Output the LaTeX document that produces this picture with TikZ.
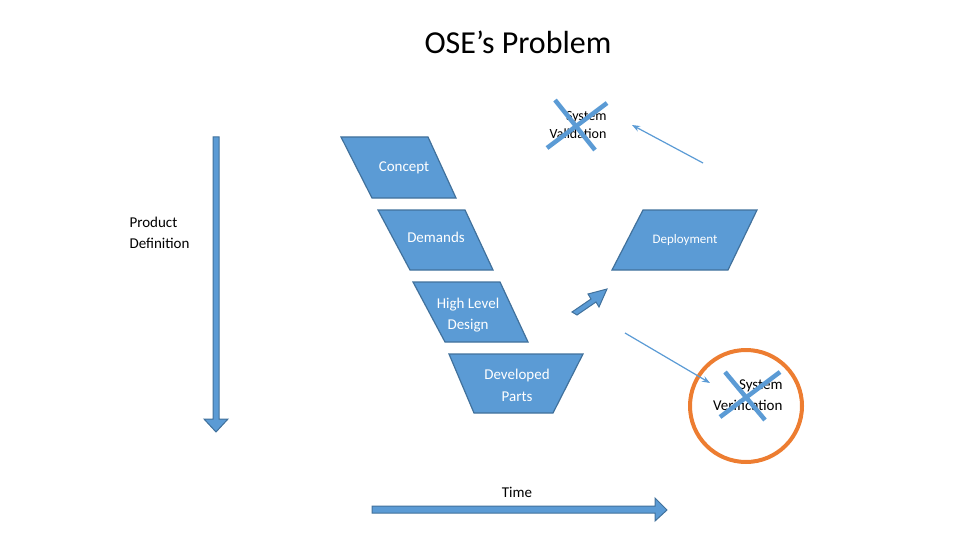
\documentclass[tikz,border=0pt]{standalone}
\usepackage{fontspec}
\setmainfont{Carlito}
\usetikzlibrary{arrows.meta}
\definecolor{bfill}{HTML}{5B9BD5}
\definecolor{bline}{HTML}{41719C}
\definecolor{orng}{HTML}{ED7D31}
\begin{document}
\begin{tikzpicture}[x=1pt,y=-1pt,
  shp/.style={fill=bfill,draw=bline,line width=1.2pt},
  wt/.style={text=white,font=\fontsize{15}{18}\selectfont,align=center},
  bt/.style={text=black,font=\fontsize{15}{18}\selectfont},
  thin/.style={draw=bfill,line width=1.2pt,-{Stealth[length=8pt,width=6pt]}},
  cross/.style={draw=bfill,line width=4.5pt},
  block/.style={fill=bfill,draw=bline,line width=1pt}]
\useasboundingbox (0,0) rectangle (960,540);
\node[font=\fontsize{32}{36}\selectfont] (title) at (518,42) {OSE’s Problem};
% left parallelograms
\draw[shp] (341,137) -- (428,137) -- (456,198) -- (372,198) -- cycle;
\node[wt] (concept) at (404,168) {Concept};
\draw[shp] (378,210) -- (465,210) -- (493,270) -- (410,270) -- cycle;
\node[wt] (demands) at (436,237) {Demands};
\draw[shp] (413,282) -- (500,282) -- (528,342) -- (445,342) -- cycle;
\node[wt,font=\fontsize{15}{21}\selectfont] (hld) at (468,315) {High Level\\Design};
\draw[shp] (449,354) -- (583,354) -- (553,413) -- (474,413) -- cycle;
\node[wt,font=\fontsize{15}{22}\selectfont] (dev) at (517,385) {Developed\\Parts};
\draw[shp] (643,210) -- (757,210) -- (728,270) -- (612,270) -- cycle;
\node[wt,font=\fontsize{13}{16}\selectfont] (dep) at (685,240) {Deployment};
% labels
\node[bt,align=left,anchor=west,font=\fontsize{15}{21}\selectfont] (pd) at (126,233) {Product\\Definition};
\node[bt,align=right,anchor=east,font=\fontsize{14}{18}\selectfont] (sval) at (610,125) {System\\Validation};
\node[bt,align=right,anchor=east,font=\fontsize{15}{21}\selectfont] (sver) at (786,395) {System\\Verification};
% crosses
\draw[cross] (555,100) -- (595,150);
\draw[cross] (607,103) -- (547,148);
\draw[cross] (725,372) -- (765,420);
\draw[cross] (780,372) -- (720,417);
\draw[draw=orng,line width=4pt] (746,406) circle (56);
% thin arrows
\coordinate (a1) at (703,163); \coordinate (a2) at (632,125);
\draw[thin] (a1) -- (a2);
\coordinate (b1) at (625,333); \coordinate (b2) at (710,383);
\draw[thin] (b1) -- (b2);
% thick small arrow
\draw[block] (572,312) -- (591,299) -- (588,294) -- (607,289) -- (599,307) -- (596,302) -- (577,315) -- cycle;
% vertical arrow
\draw[block] (213,137) -- (219,137) -- (219,419) -- (228,419) -- (216,432) -- (204,419) -- (213,419) -- cycle;
% time arrow
\draw[block] (372,506) -- (655,506) -- (655,498) -- (667,510) -- (655,521) -- (655,513) -- (372,513) -- cycle;
\node[bt] (time) at (517,492) {Time};
\end{tikzpicture}
\end{document}
